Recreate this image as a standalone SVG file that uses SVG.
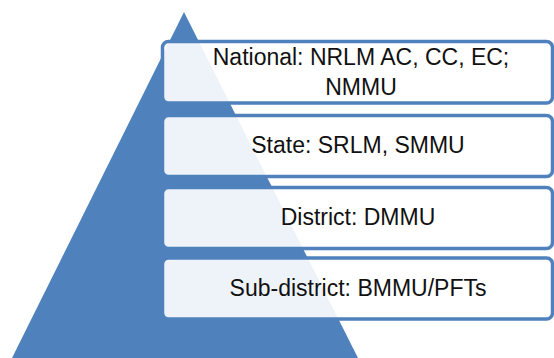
<svg xmlns="http://www.w3.org/2000/svg" width="554" height="358" viewBox="0 0 554 358">
  <style>
    .tri { fill: #4f81bd; }
    .box { fill: #ffffff; fill-opacity: 0.9; stroke: #4f81bd; stroke-width: 3.5; }
    .lbl { font-family: "Liberation Sans", Arial, sans-serif; font-size: 23px; fill: #111111; text-anchor: middle; }
  </style>
  <rect width="554" height="358" fill="#ffffff"/>
  <g id="pyramid">
    <polygon class="tri" points="184,12 12,358 358,358"/>
  </g>
  <g id="national">
    <rect class="box" x="162.5" y="41.5" width="390" height="61.5" rx="6"/>
    <text class="lbl" x="361" y="64.5">National: NRLM AC, CC, EC;</text>
    <text class="lbl" x="361" y="94.5">NMMU</text>
  </g>
  <g id="state">
    <rect class="box" x="162.5" y="115.5" width="390" height="61" rx="6"/>
    <text class="lbl" x="358" y="153">State: SRLM, SMMU</text>
  </g>
  <g id="district">
    <rect class="box" x="162.5" y="187.5" width="390" height="61" rx="6"/>
    <text class="lbl" x="358" y="225">District: DMMU</text>
  </g>
  <g id="subdistrict">
    <rect class="box" x="162.5" y="258" width="390" height="61" rx="6"/>
    <text class="lbl" x="358" y="296">Sub-district: BMMU/PFTs</text>
  </g>
</svg>
